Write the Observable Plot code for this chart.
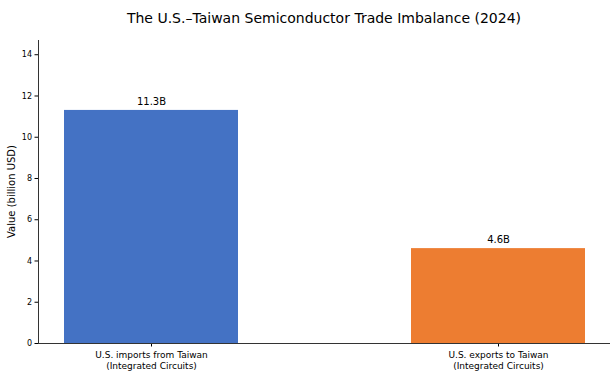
<!DOCTYPE html>
<html>
<head>
<meta charset="utf-8">
<script src="https://cdn.jsdelivr.net/npm/d3@7"></script>
<script src="https://cdn.jsdelivr.net/npm/@observablehq/plot@0.6"></script>
<style>
  body { margin: 0; background: #fff; font-family: "DejaVu Sans", sans-serif; }
  #title { height: 34px; line-height: 36px; font-size: 14px; color: #000; text-align: center; padding-left: 38px; padding-right: 6px; box-sizing: border-box; width: 616px; }
  svg { display: block; }
</style>
</head>
<body>
<div id="title">The U.S.–Taiwan Semiconductor Trade Imbalance (2024)</div>
<div id="chart"></div>
<script>
const categories = ["U.S. imports from Taiwan\n(Integrated Circuits)", "U.S. exports to Taiwan\n(Integrated Circuits)"];
const values = [11.3, 4.6];
const labels = ["11.3B", "4.6B"];
const colors = ["#4472C4", "#ED7D31"];
const yTicks = [0, 2, 4, 6, 8, 10, 12, 14];

const data = categories.map((c, i) => ({cat: c, value: values[i], label: labels[i], color: colors[i]}));

const chart = Plot.plot({
  width: 616,
  height: 345,
  marginLeft: 38,
  marginRight: 6,
  marginTop: 6,
  marginBottom: 36,
  style: {fontFamily: "'DejaVu Sans', sans-serif", fontSize: "8px", color: "#000", background: "#fff"},
  x: {domain: categories, paddingInner: 0.5, paddingOuter: 0.074, label: null},
  y: {domain: [0, 11.3 * 1.3], label: null},
  marks: [
    Plot.barY(data, {x: "cat", y: "value", fill: "color"}),
    Plot.text(data, {x: "cat", y: "value", text: "label", dy: -9, fontSize: 10, fill: "#000"}),
    Plot.axisY({ticks: yTicks, tickSize: 3.5, tickPadding: 3, fontSize: 8, label: null}),
    Plot.axisX({tickSize: 3.5, tickPadding: 4, fontSize: 9, label: null, lineHeight: 1.15}),
    Plot.ruleY([0], {stroke: "#333", strokeWidth: 1}),
    Plot.frame({anchor: "left", stroke: "#333", strokeWidth: 1})
  ]
});
document.getElementById("chart").appendChild(chart);

// y-axis title
const svg = d3.select(chart);
svg.append("text")
  .attr("transform", `translate(12, ${(6 + 309) / 2}) rotate(-90)`)
  .attr("text-anchor", "middle")
  .attr("dominant-baseline", "middle")
  .attr("font-size", 10)
  .attr("fill", "#000")
  .text("Value (billion USD)");
</script>
</body>
</html>
